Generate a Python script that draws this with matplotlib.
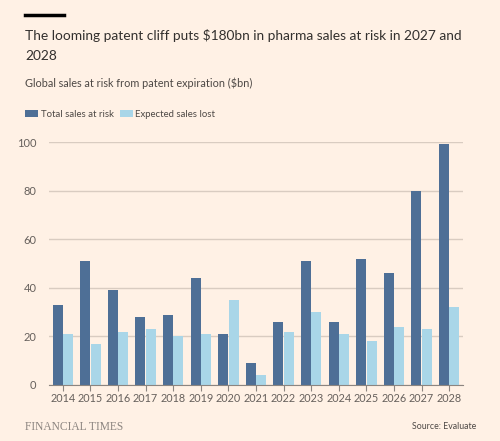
import matplotlib

matplotlib.use('Agg')
import matplotlib.pyplot as plt
import numpy as np

years = ['2014', '2015', '2016', '2017', '2018', '2019', '2020', '2021',
         '2022', '2023', '2024', '2025', '2026', '2027', '2028']
total_at_risk = [33, 51, 39, 28, 29, 44, 21, 9, 26, 51, 26, 52, 46, 80, 99]
expected_lost = [21, 17, 22, 23, 20, 21, 35, 4, 22, 30, 21, 18, 24, 23, 32]

bg = '#FFF1E5'
dark = '#4E6F96'
light = '#A9D6E8'
grey = '#66605C'

plt.rcParams['font.family'] = ['Lato', 'DejaVu Sans']

fig = plt.figure(figsize=(5, 4.41), dpi=100, facecolor=bg)
ax = fig.add_axes([0.098, 0.127, 0.828, 0.551])
ax.set_facecolor(bg)

x = np.arange(len(years))
w = 0.36
ax.bar(x - w / 2 - 0.01, total_at_risk, w, color=dark, label='Total sales at risk', zorder=3)
ax.bar(x + w / 2 + 0.01, expected_lost, w, color=light, label='Expected sales lost', zorder=3)

ax.set_xlim(-0.5, len(years) - 0.5)
ax.set_ylim(0, 100)
ax.set_yticks([0, 20, 40, 60, 80, 100])
ax.set_xticks(x)
ax.set_xticklabels(years)
ax.grid(axis='y', color='#D9CCC1', linewidth=1, zorder=0)
for s in ['top', 'right', 'left']:
    ax.spines[s].set_visible(False)
ax.spines['bottom'].set_color('#8C8580')
ax.spines['bottom'].set_zorder(4)
ax.tick_params(axis='y', length=0, pad=9, labelsize=8, labelcolor=grey)
ax.tick_params(axis='x', length=4, color='#8C8580', pad=2, labelsize=7.8, labelcolor=grey)

# title block
fig.add_artist(plt.Line2D([0.05, 0.127], [0.965, 0.965], color='black', linewidth=2.5,
                          transform=fig.transFigure))
fig.text(0.05, 0.935, 'The looming patent cliff puts $180bn in pharma sales at risk in 2027 and\n2028',
         fontsize=9.9, color='#33302E', va='top', ha='left', linespacing=1.85)
fig.text(0.05, 0.811, 'Global sales at risk from patent expiration ($bn)',
         fontsize=7.8, color='#4D4845', va='center', ha='left')

leg = ax.legend(loc='lower left', bbox_to_anchor=(0.05, 0.731), bbox_transform=fig.transFigure,
                ncol=2, frameon=False, fontsize=6.9, handlelength=1.35, handleheight=0.75,
                handletextpad=0.3, columnspacing=0.6, borderaxespad=0, borderpad=0)
for t in leg.get_texts():
    t.set_color('#4D4845')

fig.text(0.05, 0.032, 'FINANCIAL TIMES', family='Liberation Serif', fontsize=8.3,
         color='#8C8580', va='center', ha='left')
fig.text(0.952, 0.032, 'Source: Evaluate', fontsize=6.3, color='#4D4845',
         va='center', ha='right')

plt.savefig('out.png', dpi=100, facecolor=bg)
